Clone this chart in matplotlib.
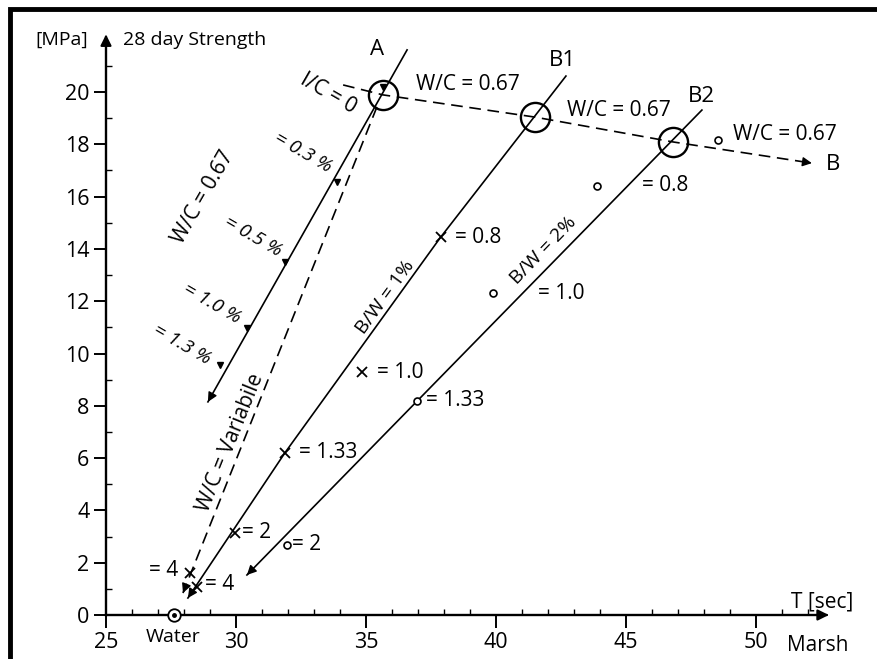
import numpy as np
import matplotlib
matplotlib.use("Agg")
import matplotlib.pyplot as plt
from matplotlib.patches import Rectangle

plt.rcParams["font.family"] = ["Open Sans", "DejaVu Sans"]

# ---- data ----
x_ticks = [25, 30, 35, 40, 45, 50]
y_ticks = [0, 2, 4, 6, 8, 10, 12, 14, 16, 18, 20]

# solid line A (W/C = 0.67, increasing I/C), top -> arrow
line_a_x = [36.58, 28.92]
line_a_y = [21.61, 8.15]
tri_x = [35.65, 33.88, 31.88, 30.42, 29.38]
tri_y = [20.20, 16.56, 13.50, 10.97, 9.56]

# dashed line W/C = variable
var_x = [35.42, 27.96]
var_y = [19.43, 0.84]

# line B1 (B/W = 1%)
line_b1_x = [42.69, 37.85, 31.88, 28.15]
line_b1_y = [20.61, 14.42, 6.20, 0.65]
b1_pts_x = [37.90, 34.85, 31.88, 29.96, 28.50, 28.23]
b1_pts_y = [14.46, 9.29, 6.20, 3.14, 1.07, 1.61]

# line B2 (B/W = 2%)
line_b2_x = [47.92, 30.42]
line_b2_y = [19.31, 1.53]
b2_pts_x = [36.96, 31.97, 39.90, 43.90, 48.54]
b2_pts_y = [8.20, 2.68, 12.30, 16.40, 18.16]

# dashed line I/C = 0 -> B (W/C = 0.67)
line_b_x = [34.12, 35.65, 41.50, 46.81, 52.15]
line_b_y = [20.27, 19.89, 19.04, 18.09, 17.28]

# big circles A, B1, B2
big_x = [35.65, 41.50, 46.81]
big_y = [19.89, 19.04, 18.09]

water_x, water_y = 27.6, 0.0

# labels: text, x, y, rotation, size, style
labels = [
    ("[MPa]", 23.31, 21.99, 0, 14, "normal"),
    ("28 day Strength", 28.42, 21.99, 0, 14, "normal"),
    ("A", 35.42, 21.61, 0, 16, "normal"),
    ("B1", 42.54, 21.22, 0, 16, "normal"),
    ("B2", 47.92, 19.81, 0, 16, "normal"),
    ("B", 52.96, 17.21, 0, 16, "normal"),
    ("W/C = 0.67", 38.92, 20.27, 0, 15, "normal"),
    ("W/C = 0.67", 44.73, 19.31, 0, 15, "normal"),
    ("W/C = 0.67", 51.12, 18.36, 0, 15, "normal"),
    ("= 0.8", 46.50, 16.44, 0, 15, "normal"),
    ("= 0.8", 39.31, 14.45, 0, 15, "normal"),
    ("= 1.0", 42.50, 12.31, 0, 15, "normal"),
    ("= 1.0", 36.31, 9.29, 0, 15, "normal"),
    ("= 1.33", 38.42, 8.22, 0, 15, "normal"),
    ("= 1.33", 33.54, 6.23, 0, 15, "normal"),
    ("= 2", 30.81, 3.14, 0, 15, "normal"),
    ("= 2", 32.73, 2.68, 0, 15, "normal"),
    ("= 4", 29.38, 1.15, 0, 15, "normal"),
    ("= 4", 27.23, 1.72, 0, 15, "normal"),
    ("B/W = 2%", 41.81, 13.96, 46, 14, "normal"),
    ("B/W = 1%", 35.73, 12.16, 54, 14, "normal"),
    ("I/C = 0", 33.54, 19.96, -30, 15, "normal"),
    ("W/C = 0.67", 28.73, 15.98, 60, 15, "normal"),
    ("= 0.3 %", 32.58, 17.67, -30, 14, "italic"),
    ("= 0.5 %", 30.65, 14.46, -30, 14, "italic"),
    ("= 1.0 %", 29.08, 11.93, -30, 14, "italic"),
    ("= 1.3 %", 27.92, 10.33, -30, 14, "italic"),
    ("W/C = Variabile", 29.77, 6.58, 68, 15, "normal"),
    ("Water", 27.58, -0.84, 0, 14, "normal"),
    ("T [sec]", 52.54, 0.50, 0, 15, "normal"),
    ("Marsh", 52.38, -1.15, 0, 15, "normal"),
]


def arrow_head(ax, xs, ys, lw=1.0, scale=14):
    # arrowhead at the last point, pointing along the last segment
    x0, y0 = xs[-2], ys[-2]
    x1, y1 = xs[-1], ys[-1]
    t = 0.15 / np.hypot(x1 - x0, y1 - y0)
    ax.annotate("", xy=(x1, y1), xytext=(x1 - (x1 - x0) * t, y1 - (y1 - y0) * t),
                arrowprops=dict(arrowstyle="-|>", color="black", lw=lw,
                                mutation_scale=scale, shrinkA=0, shrinkB=0))


fig = plt.figure(figsize=(8.78, 6.59), dpi=100)
ax = fig.add_axes([0, 0, 1, 1])
ax.set_xlim(25 - 106 / 26, 25 + 772 / 26)
ax.set_ylim(-44 / 26.15, 615 / 26.15)
ax.patch.set_alpha(0)

# axes drawn as spines through the origin
for side in ("top", "right"):
    ax.spines[side].set_visible(False)
ax.spines["left"].set_position(("data", 25))
ax.spines["bottom"].set_position(("data", 0))
ax.spines["left"].set_bounds(0, 22.0)
ax.spines["bottom"].set_bounds(25, 52.6)
for side in ("left", "bottom"):
    ax.spines[side].set_linewidth(1.7)
ax.set_xticks(x_ticks)
ax.set_yticks(y_ticks)
ax.set_xticks(np.arange(25, 53, 1), minor=True)
ax.set_yticks(np.arange(1, 22, 2), minor=True)
ax.tick_params(which="major", direction="out", length=9, width=1.4,
               labelsize=15.5, pad=3)
ax.tick_params(which="minor", direction="in", length=4, width=1.0)
arrow_head(ax, [25, 25], [21.0, 22.2], lw=1.6, scale=16)
arrow_head(ax, [51.0, 52.8], [0, 0], lw=1.6, scale=16)

# line A with triangles
ax.plot(line_a_x, line_a_y, color="black", lw=1.2)
arrow_head(ax, line_a_x, line_a_y)
ax.plot(tri_x, tri_y, "v", color="black", ms=5, ls="none")

# W/C variable dashed
ax.plot(var_x, var_y, color="black", lw=1.2, ls=(0, (7, 4)))
arrow_head(ax, var_x, var_y)

# B1
ax.plot(line_b1_x, line_b1_y, color="black", lw=1.2)
arrow_head(ax, line_b1_x, line_b1_y)
ax.plot(b1_pts_x, b1_pts_y, "x", color="black", ms=7, mew=1.3, ls="none")

# B2
ax.plot(line_b2_x, line_b2_y, color="black", lw=1.2)
arrow_head(ax, line_b2_x, line_b2_y)
ax.plot(b2_pts_x, b2_pts_y, "o", color="black", mfc="white", ms=5, mew=1.2,
        ls="none")

# I/C = 0 -> B dashed
ax.plot(line_b_x, line_b_y, color="black", lw=1.2, ls=(0, (7, 4)))
arrow_head(ax, line_b_x, line_b_y)

ax.plot(big_x, big_y, "o", color="black", mfc="none", ms=21, mew=1.7,
        ls="none")
ax.plot(water_x, water_y, "o", color="black", mfc="white", ms=9, mew=1.3,
        clip_on=False, zorder=5)
ax.plot(water_x, water_y, "o", color="black", ms=2.5, zorder=6)

for txt, x, y, rot, size, style in labels:
    ax.text(x, y, txt, rotation=rot, fontsize=size, style=style,
            ha="center", va="center", rotation_mode="anchor")

# outer frame (only left and top edges fall inside the picture)
fig.patches.append(Rectangle((10.5 / 878, -0.1), 1.2, 1 - 8.5 / 659 + 0.1,
                             transform=fig.transFigure, fill=False,
                             lw=3.5, edgecolor="black"))

fig.savefig("out.png", dpi=100)
